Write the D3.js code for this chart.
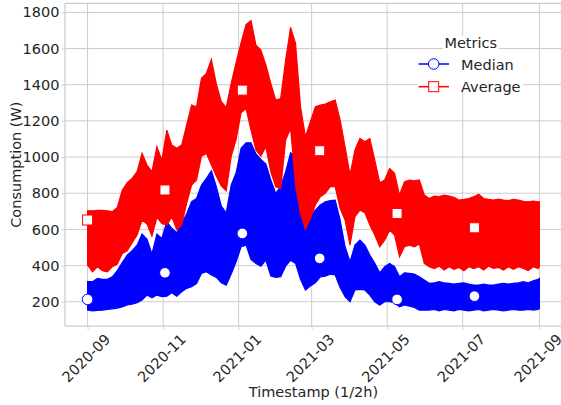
<!DOCTYPE html>
<html><head><meta charset="utf-8">
<script src="https://cdn.jsdelivr.net/npm/d3@7"></script>
<style>
body{margin:0;background:#fff}
svg{display:block}
text{font-family:"DejaVu Sans",sans-serif;fill:#262626}
</style>
</head><body>
<svg id="chart" width="561" height="405"></svg>
<script>
// Half-hourly series summarised as an envelope (min / max) read every 4 days
const dates = [
"2020-09-01","2020-09-05","2020-09-09","2020-09-13","2020-09-17","2020-09-21","2020-09-25","2020-09-29",
"2020-10-03","2020-10-07","2020-10-11","2020-10-15","2020-10-19","2020-10-23","2020-10-27","2020-10-31",
"2020-11-04","2020-11-08","2020-11-12","2020-11-16","2020-11-20","2020-11-24","2020-11-28",
"2020-12-02","2020-12-06","2020-12-10","2020-12-14","2020-12-18","2020-12-22","2020-12-26","2020-12-30",
"2021-01-03","2021-01-07","2021-01-11","2021-01-15","2021-01-19","2021-01-23","2021-01-27","2021-01-31",
"2021-02-04","2021-02-08","2021-02-12","2021-02-16","2021-02-20","2021-02-24","2021-02-28",
"2021-03-04","2021-03-08","2021-03-12","2021-03-16","2021-03-20","2021-03-24","2021-03-28",
"2021-04-01","2021-04-05","2021-04-09","2021-04-13","2021-04-17","2021-04-21","2021-04-25","2021-04-29",
"2021-05-03","2021-05-07","2021-05-11","2021-05-15","2021-05-19","2021-05-23","2021-05-27","2021-05-31",
"2021-06-04","2021-06-08","2021-06-12","2021-06-16","2021-06-20","2021-06-24","2021-06-28",
"2021-07-02","2021-07-06","2021-07-10","2021-07-14","2021-07-18","2021-07-22","2021-07-26","2021-07-30",
"2021-08-03","2021-08-07","2021-08-11","2021-08-15","2021-08-19","2021-08-23","2021-08-27","2021-08-31",
"2021-09-01"];

const averageHigh = [
703,703,705,705,703,698,722,817,858,882,919,1020,956,919,1057,983,1149,1066,1048,1066,1177,1287,1278,
1435,1463,1540,1404,1306,1275,1407,1523,1632,1732,1754,1619,1592,1509,1407,1315,1324,1536,1717,1628,1278,1112,1195,
1278,1287,1293,1306,1315,1205,1057,900,1039,1103,1085,1103,983,858,873,937,910,790,864,873,869,873,790,
771,784,781,790,784,777,762,766,771,781,795,771,766,762,768,762,759,766,762,755,753,757,753,753];

const averageLow = [
403,366,394,372,366,394,408,467,482,526,569,652,630,563,666,633,624,670,600,624,744,845,873,
1005,1020,956,895,840,814,1002,1098,1245,1269,1149,1039,1005,1057,919,836,827,1094,1158,845,688,600,661,
735,781,799,836,836,716,652,513,670,707,692,624,569,504,541,596,569,449,504,513,504,519,412,
394,384,397,375,394,379,390,372,394,383,394,375,397,384,390,375,394,379,394,384,372,394,384,394];

const medianHigh = [
311,311,329,324,324,338,372,416,458,482,513,574,545,464,574,550,642,606,582,633,685,753,771,
845,882,924,836,729,692,845,913,1048,1079,1079,1017,987,961,873,799,836,919,1024,1002,753,652,674,
707,735,753,759,762,652,504,421,513,541,513,458,412,360,394,412,394,338,360,357,353,338,320,
302,305,311,305,302,298,302,305,298,292,292,298,292,292,298,302,298,302,305,311,305,316,324,329];

const medianLow = [
154,150,152,154,158,161,165,172,182,187,195,209,237,222,237,228,231,250,231,255,274,283,301,
357,366,348,335,305,292,353,421,504,513,434,412,397,430,342,335,338,397,430,412,324,265,287,
305,338,342,353,348,279,228,200,265,268,265,237,200,182,200,200,195,172,182,176,169,154,154,
154,158,150,158,154,150,158,154,150,154,158,150,154,158,154,150,154,158,154,154,158,154,158,163];

// marker points (every 3000 half-hours)
const markerDates = ["2020-09-01T00:00","2020-11-02T12:00","2021-01-04T00:00","2021-03-07T12:00","2021-05-09T00:00","2021-07-10T12:00"];
const medianMarkers = [213,360,578,440,213,231];
const averageMarkers = [652,818,1370,1035,688,609];

const yTicks = [200,400,600,800,1000,1200,1400,1600,1800];
const xTickLabels = ["2020-09","2020-11","2021-01","2021-03","2021-05","2021-07","2021-09"];
const seriesNames = ["Median","Average"];
const seriesColors = ["#0000ff","#ff0000"];

const svg = d3.select("#chart");
const L = 65, R = 562, T = 3.3, B = 326;
const parseD = d3.timeParse("%Y-%m-%d");
const parseDT = d3.timeParse("%Y-%m-%dT%H:%M");
const parseM = d3.timeParse("%Y-%m");
const dd = dates.map(parseD);
const x0 = dd[0], x1 = dd[dd.length-1];
const pad = (x1 - x0) * 0.05;
const x = d3.scaleTime().domain([new Date(+x0 - pad), new Date(+x1 + pad)]).range([L, R]);
const y = d3.scaleLinear().domain([66, 1850]).range([B, T]);

// grid
const g = svg.append("g");
g.selectAll(".hg").data(yTicks).join("line")
  .attr("x1", L).attr("x2", R).attr("y1", d => y(d)).attr("y2", d => y(d))
  .attr("stroke", "#cccccc").attr("stroke-width", 1);
const xt = xTickLabels.map(parseM);
g.selectAll(".vg").data(xt).join("line")
  .attr("x1", d => x(d)).attr("x2", d => x(d)).attr("y1", T).attr("y2", B)
  .attr("stroke", "#cccccc").attr("stroke-width", 1);

// series envelopes
const rows = dd.map((d, i) => ({d, ah: averageHigh[i], al: averageLow[i], mh: medianHigh[i], ml: medianLow[i]}));
const medArea = d3.area().x(r => x(r.d)).y0(r => y(r.ml)).y1(r => y(r.mh));
const avgArea = d3.area().x(r => x(r.d)).y0(r => y(r.al)).y1(r => y(r.ah));
svg.append("path").attr("d", medArea(rows)).attr("fill", seriesColors[0]).attr("stroke", seriesColors[0]).attr("stroke-width", 1.2).attr("stroke-linejoin","miter");
svg.append("g").selectAll("circle").data(markerDates.map((m,i)=>({d:parseDT(m), v:medianMarkers[i]}))).join("circle")
  .attr("cx", p => x(p.d)).attr("cy", p => y(p.v)).attr("r", 5.3)
  .attr("fill", "#fff").attr("stroke", seriesColors[0]).attr("stroke-width", 1);
svg.append("path").attr("d", avgArea(rows)).attr("fill", seriesColors[1]).attr("stroke", seriesColors[1]).attr("stroke-width", 1.2).attr("stroke-linejoin","miter");
svg.append("g").selectAll("rect").data(markerDates.map((m,i)=>({d:parseDT(m), v:averageMarkers[i]}))).join("rect")
  .attr("x", p => x(p.d) - 5).attr("y", p => y(p.v) - 5).attr("width", 10).attr("height", 10)
  .attr("fill", "#fff").attr("stroke", seriesColors[1]).attr("stroke-width", 1);

// spines
svg.append("line").attr("x1", L).attr("x2", L).attr("y1", T).attr("y2", B).attr("stroke", "#cccccc").attr("stroke-width", 1.25);
svg.append("line").attr("x1", L).attr("x2", R).attr("y1", B).attr("y2", B).attr("stroke", "#cccccc").attr("stroke-width", 1.25);
svg.append("line").attr("x1", L).attr("x2", R).attr("y1", T).attr("y2", T).attr("stroke", "#cccccc").attr("stroke-width", 1.25);

// y axis
const yAxis = d3.axisLeft(y).tickValues(yTicks).tickFormat(d3.format("d")).tickSize(3.5).tickPadding(2);
const ya = svg.append("g").attr("transform", `translate(${L},0)`).call(yAxis);
ya.select(".domain").remove();
ya.selectAll(".tick line").attr("stroke", "#cccccc");
ya.selectAll(".tick text").style("font-size", "14.5px").style("font-family", "DejaVu Sans").attr("fill", "#262626");

// x axis
const xAxis = d3.axisBottom(x).tickValues(xt).tickFormat(d3.timeFormat("%Y-%m")).tickSize(3.5);
const xa = svg.append("g").attr("transform", `translate(0,${B})`).call(xAxis);
xa.select(".domain").remove();
xa.selectAll(".tick line").attr("stroke", "#cccccc");
xa.selectAll(".tick text")
  .style("font-size", "14.5px").style("font-family", "DejaVu Sans").attr("fill", "#262626")
  .attr("text-anchor", "end").attr("x", 0).attr("y", 0).attr("dy", "0.35em")
  .attr("transform", "translate(19.5,10.7) rotate(-45)");

// axis labels
svg.append("text").attr("x", (L + R) / 2).attr("y", 397).attr("text-anchor", "middle")
  .style("font-size", "14.5px").text("Timestamp (1/2h)");
svg.append("text").attr("transform", `translate(20.5,${(T + B) / 2}) rotate(-90)`).attr("text-anchor", "middle")
  .style("font-size", "14.5px").text("Consumption (W)");

// legend
const lg = svg.append("g");
lg.append("rect").attr("x", 443).attr("y", 36).attr("width", 56).attr("height", 14).attr("fill", "#fff");
lg.append("rect").attr("x", 418).attr("y", 50).attr("width", 105).attr("height", 42).attr("fill", "#fff");
lg.append("text").attr("x", 470.7).attr("y", 48.3).attr("text-anchor", "middle").style("font-size", "14.5px").text("Metrics");
seriesNames.forEach((name, i) => {
  const cy = 64 + i * 22.7;
  lg.append("line").attr("x1", 418.5).attr("x2", 449).attr("y1", cy).attr("y2", cy)
    .attr("stroke", seriesColors[i]).attr("stroke-width", 1.5);
  if (i === 0) {
    lg.append("circle").attr("cx", 433.7).attr("cy", cy).attr("r", 5.3).attr("fill", "#fff").attr("stroke", seriesColors[i]).attr("stroke-width", 1);
  } else {
    lg.append("rect").attr("x", 428.7).attr("y", cy - 5).attr("width", 10).attr("height", 10).attr("fill", "#fff").attr("stroke", seriesColors[i]).attr("stroke-width", 1);
  }
  lg.append("text").attr("x", 461).attr("y", cy + 5.5).style("font-size", "14.5px").text(name);
});
</script>
</body></html>
